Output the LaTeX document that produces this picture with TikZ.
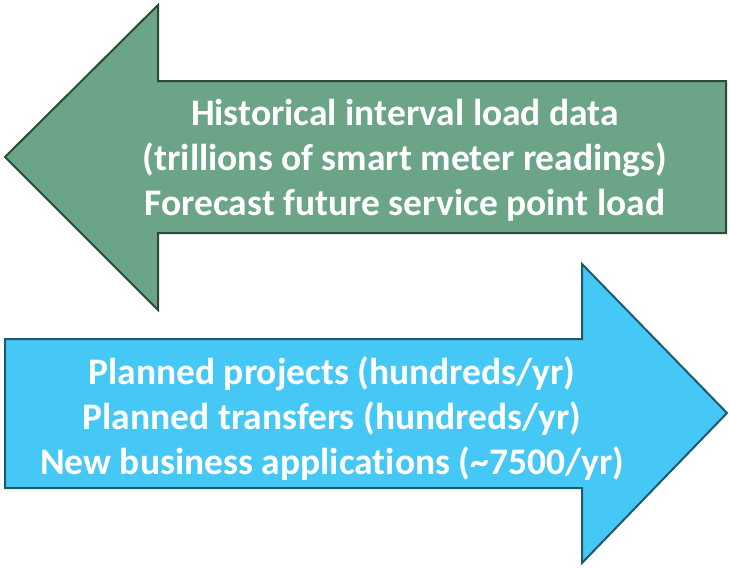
\documentclass[tikz,border=0pt]{standalone}
\usepackage{fontspec}
\setmainfont[RawFeature={-liga}]{Carlito}
\definecolor{greenfill}{HTML}{6BA487}
\definecolor{greenline}{HTML}{2B4A3A}
\definecolor{bluefill}{HTML}{45C8F5}
\definecolor{blueline}{HTML}{1E5A6E}
\tikzset{
  arrowshape/.style={line width=2pt, line join=miter},
  leftarrow/.style={arrowshape, fill=greenfill, draw=greenline},
  rightarrow/.style={arrowshape, fill=bluefill, draw=blueline},
  label/.style={text=white, font=\fontsize{37.5}{45}\selectfont\bfseries, align=center}
}
\begin{document}
\begin{tikzpicture}[x=1pt, y=-1pt]
  \useasboundingbox (0,0) rectangle (730,568);
  % left-pointing arrow: data flowing back
  \draw[leftarrow] (5,157) -- (158,5) -- (158,81) -- (726,81) -- (726,233)
    -- (158,233) -- (158,310) -- cycle;
  % right-pointing arrow: requests flowing forward
  \draw[rightarrow] (5,339) -- (582,339) -- (582,264) -- (727,413)
    -- (582,563) -- (582,488) -- (5,488) -- cycle;
  \node[label] (hist) at (405,160) {Historical interval load data\\(trillions of smart meter readings)\\Forecast future service point load};
  \node[label] (plan) at (332,418.5) {Planned projects (hundreds/yr)\\Planned transfers (hundreds/yr)\\New business applications (\textasciitilde 7500/yr)};
\end{tikzpicture}
\end{document}
